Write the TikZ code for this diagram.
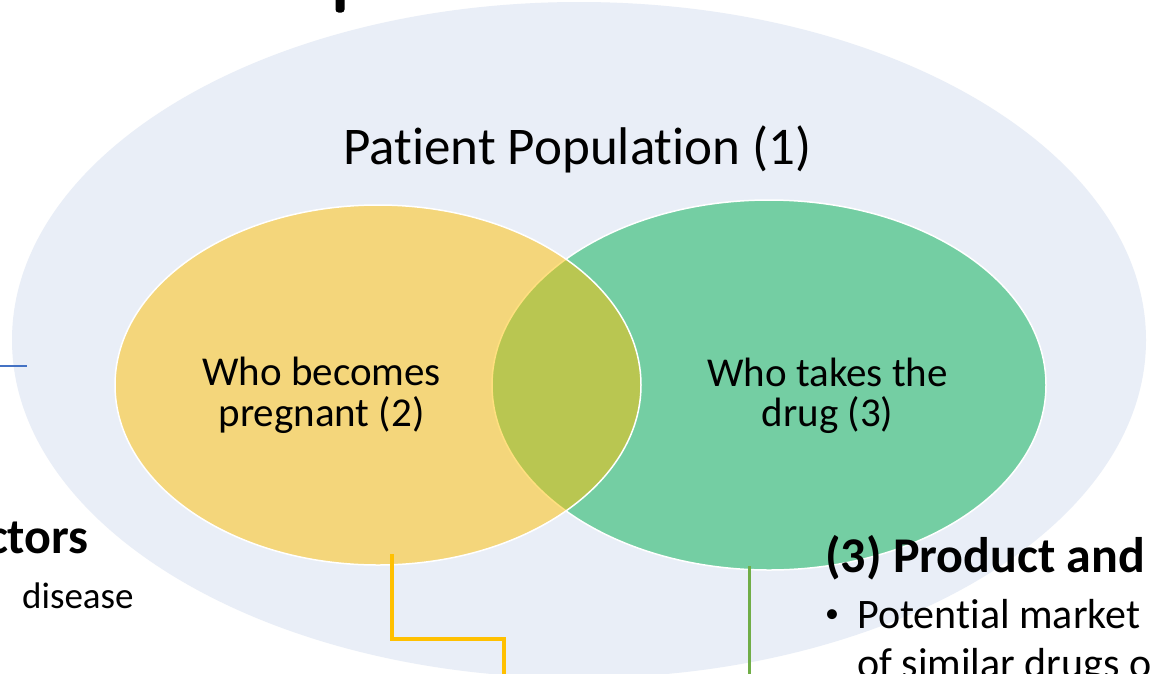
\documentclass[tikz,border=0pt]{standalone}
\usepackage{fontspec}
\setmainfont{Carlito}[RawFeature={-liga}]
\usetikzlibrary{shapes.geometric}

\definecolor{popfill}{RGB}{233,238,247}
\definecolor{pregcol}{HTML}{FFC000}
\definecolor{drugcol}{HTML}{00B050}
\definecolor{linkblue}{HTML}{4472C4}
\definecolor{linkgreen}{HTML}{70AD47}

\begin{document}
\begin{tikzpicture}[x=1pt,y=-1pt,
  vennset/.style={ellipse, inner sep=0pt, draw=white, line width=1.5pt, fill opacity=0.5},
  title/.style={font=\fontsize{53}{62}\selectfont, inner sep=0pt, anchor=base},
  setlabel/.style={font=\fontsize{41}{48}\selectfont, inner sep=0pt, anchor=base},
  heading/.style={font=\fontsize{50}{58}\selectfont\bfseries, inner sep=0pt},
  bodytext/.style={font=\fontsize{42}{50}\selectfont, inner sep=0pt},
  connector/.style={line width=3.5pt}]

% page frame
\clip (0,0) rectangle (1154,673);
\fill[white] (0,0) rectangle (1154,673);

% whole patient population
\node[ellipse, fill=popfill, inner sep=0pt, minimum width=1134pt, minimum height=676pt] (population) at (579,340) {};

% overlapping sets
\node[vennset, fill=drugcol, minimum width=554pt, minimum height=370pt] (drugset) at (769,385) {};
\node[vennset, fill=pregcol, minimum width=526pt, minimum height=360pt] (pregset) at (378,385) {};

% labels
\node[title] (poplabel) at (577.5,164) {Patient Population (1)};
\node[setlabel] (preg1) at (321.5,385) {Who becomes};
\node[setlabel] (preg2) at (321.5,426) {pregnant (2)};
\node[setlabel] (drug1) at (827.5,386) {Who takes the};
\node[setlabel] (drug2) at (827.5,426) {drug (3)};

% side text blocks
\node[heading, anchor=base east] (factors) at (89,553) {ctors};
\node[bodytext, font=\fontsize{37}{44}\selectfont, anchor=base west] (disease) at (22,608) {disease};
\node[heading, anchor=base west] (product) at (825,572) {(3) Product and};
\node[font=\fontsize{28}{34}\selectfont, inner sep=0pt, anchor=base west] (bullet) at (825,622) {•};
\node[bodytext, anchor=base west] (market1) at (857,628) {Potential market};
\node[bodytext, anchor=base west] (market2) at (857,677) {of similar drugs o};

% stray mark at the top edge
\fill[black, rounded corners=3pt] (335.5,-6) rectangle (344.5,12.5);

% connectors
\coordinate (blueA) at (0,366);
\coordinate (blueB) at (27,366);
\draw[linkblue, line width=2pt] (blueA) -- (blueB);

\coordinate (pregTail) at (392,554);
\coordinate (pregEnd) at (504,680);
\draw[pregcol, connector] (pregTail) |- (448,639) -| (pregEnd);

\coordinate (drugTail) at (749.5,566);
\coordinate (drugEnd) at (749.5,680);
\draw[linkgreen, connector] (drugTail) -- (drugEnd);
\end{tikzpicture}
\end{document}
